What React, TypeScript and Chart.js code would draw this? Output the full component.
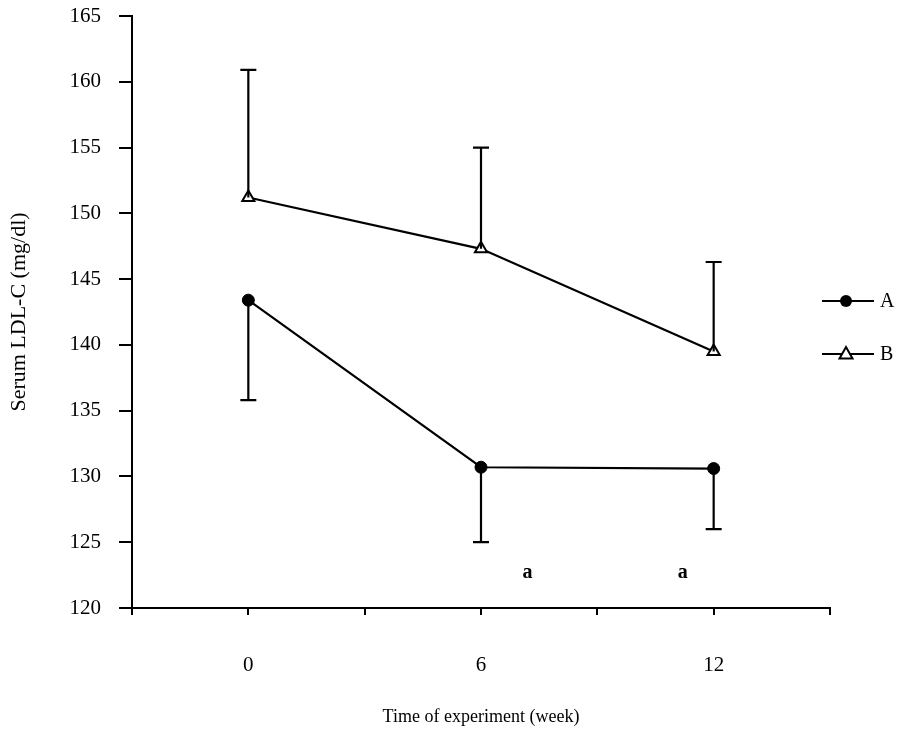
import React, { useEffect, useRef } from "react";
import { Chart, registerables } from "chart.js";

Chart.register(...registerables);

const weeks = [0, 6, 12];
const meanA = [143.4, 130.7, 130.6];
const lowerA = [135.8, 125.0, 126.0];
const meanB = [151.2, 147.3, 139.5];
const upperB = [160.9, 155.0, 146.3];
const xTickLabels: Record<number, string> = { 0: "0", 6: "6", 12: "12" };
const noteX = [7.2, 11.2];
const noteY = [122.7, 122.7];
const noteText = ["a", "a"];

const FONT = "'Liberation Serif', 'DejaVu Serif', serif";

export default function App() {
  const ref = useRef<HTMLCanvasElement | null>(null);

  useEffect(() => {
    document.body.style.margin = "0";
    const canvas = ref.current!;
    const errorBars = {
      id: "errorBars",
      afterDatasetsDraw(chart: any) {
        const ctx = chart.ctx;
        const xs = chart.scales.x;
        const ys = chart.scales.y;
        const bounds = [lowerA, upperB];
        const means = [meanA, meanB];
        ctx.save();
        ctx.strokeStyle = "#000";
        ctx.lineWidth = 2.2;
        bounds.forEach((b, i) => {
          weeks.forEach((w, j) => {
            const px = xs.getPixelForValue(w);
            const y0 = ys.getPixelForValue(means[i][j]);
            const y1 = ys.getPixelForValue(b[j]);
            ctx.beginPath();
            ctx.moveTo(px, y0);
            ctx.lineTo(px, y1);
            ctx.moveTo(px - 8, y1);
            ctx.lineTo(px + 8, y1);
            ctx.stroke();
          });
        });
        // annotations
        ctx.fillStyle = "#000";
        ctx.font = `bold 20px ${FONT}`;
        ctx.textAlign = "center";
        ctx.textBaseline = "middle";
        noteText.forEach((t, k) => {
          ctx.fillText(t, xs.getPixelForValue(noteX[k]), ys.getPixelForValue(noteY[k]));
        });
        // legend
        const ca = chart.chartArea;
        const lx = ca.right - 8;
        const items = [
          { label: "A", y: ca.top + 285, tri: false },
          { label: "B", y: ca.top + 338, tri: true },
        ];
        items.forEach((it) => {
          ctx.beginPath();
          ctx.moveTo(lx, it.y);
          ctx.lineTo(lx + 52, it.y);
          ctx.lineWidth = 2;
          ctx.stroke();
          const cx = lx + 24;
          if (!it.tri) {
            ctx.beginPath();
            ctx.arc(cx, it.y, 6, 0, Math.PI * 2);
            ctx.fill();
          } else {
            ctx.beginPath();
            ctx.moveTo(cx, it.y - 7);
            ctx.lineTo(cx + 6.5, it.y + 4.5);
            ctx.lineTo(cx - 6.5, it.y + 4.5);
            ctx.closePath();
            ctx.fillStyle = "#fff";
            ctx.fill();
            ctx.stroke();
            ctx.fillStyle = "#000";
          }
          ctx.font = `20px ${FONT}`;
          ctx.textAlign = "left";
          ctx.fillText(it.label, lx + 58, it.y + 1);
        });
        ctx.restore();
      },
    };

    const chart = new Chart(canvas, {
      type: "line",
      data: {
        datasets: [
          {
            label: "A",
            data: weeks.map((w, i) => ({ x: w, y: meanA[i] })),
            borderColor: "#000",
            backgroundColor: "#000",
            borderWidth: 2.2,
            pointStyle: "circle",
            pointRadius: 6,
            pointBorderWidth: 1,
            tension: 0,
          },
          {
            label: "B",
            data: weeks.map((w, i) => ({ x: w, y: meanB[i] })),
            borderColor: "#000",
            backgroundColor: "#fff",
            borderWidth: 2.2,
            pointStyle: "triangle",
            pointRadius: 7,
            pointBorderWidth: 2,
            tension: 0,
          },
        ],
      },
      options: {
        responsive: false,
        animation: false,
        layout: { padding: { left: 0, right: 77, top: 16, bottom: 0 } },
        plugins: { legend: { display: false }, tooltip: { enabled: false } },
        scales: {
          x: {
            type: "linear",
            min: -3,
            max: 15,
            afterFit: (s: any) => {
              s.height = 125;
              s.paddingLeft = 0;
              s.paddingRight = 0;
            },
            border: { color: "#000", width: 2 },
            grid: { drawOnChartArea: false, tickLength: 7, color: "#000", lineWidth: 2 },
            ticks: {
              stepSize: 3,
              color: "#000",
              font: { family: FONT, size: 21 },
              padding: 38,
              maxRotation: 0,
              autoSkip: false,
              callback: (v: any) => xTickLabels[v as number] ?? "",
            },
            title: {
              display: true,
              text: "Time of experiment (week)",
              color: "#000",
              font: { family: FONT, size: 18 },
              padding: { top: 0, bottom: 5 },
            },
          },
          y: {
            min: 120,
            max: 165,
            afterFit: (s: any) => {
              s.width = 132;
              s.paddingTop = 0;
              s.paddingBottom = 0;
            },
            border: { color: "#000", width: 2 },
            grid: { drawOnChartArea: false, tickLength: 13, color: "#000", lineWidth: 2 },
            ticks: {
              stepSize: 5,
              color: "#000",
              font: { family: FONT, size: 21 },
              padding: 18,
            },
            title: {
              display: true,
              text: "Serum LDL-C (mg/dl)",
              color: "#000",
              font: { family: FONT, size: 22 },
              padding: { top: 6, bottom: 0 },
            },
          },
        },
      },
      plugins: [errorBars],
    });
    return () => chart.destroy();
  }, []);

  return <canvas ref={ref} width={907} height={733} style={{ display: "block" }} />;
}
